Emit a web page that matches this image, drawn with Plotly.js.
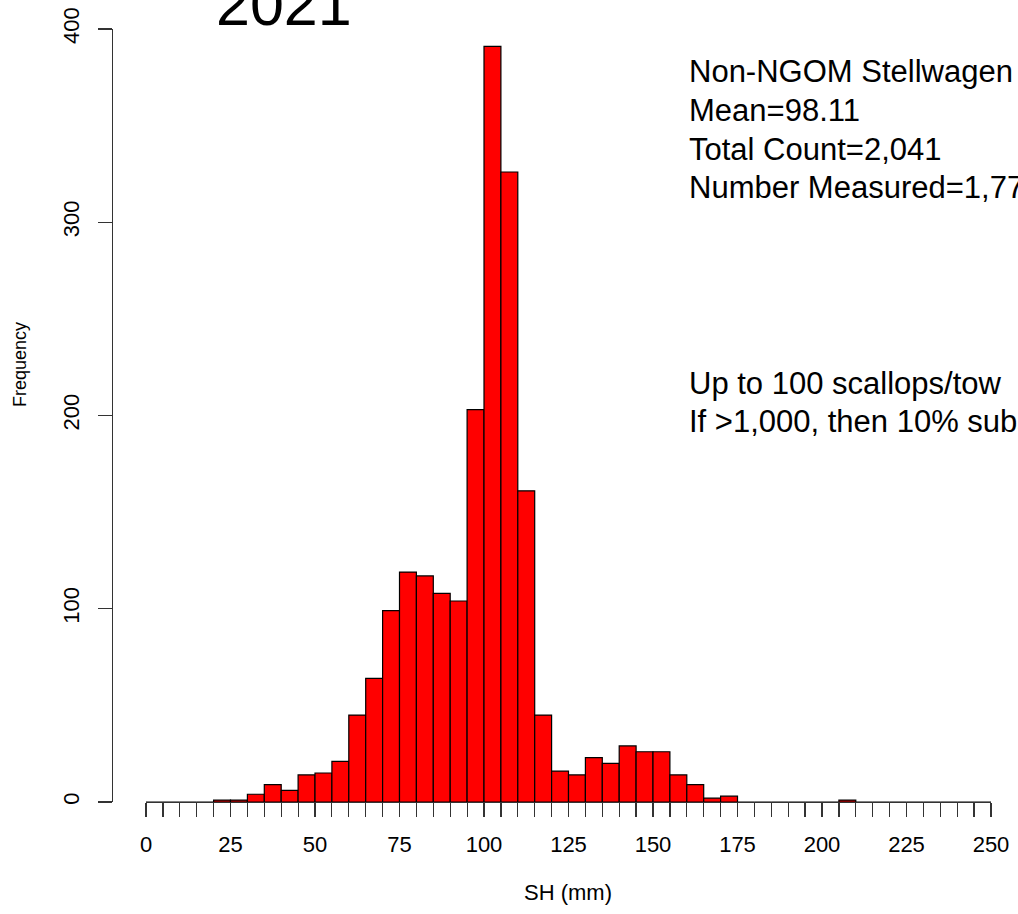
<!DOCTYPE html>
<html>
<head>
<meta charset="utf-8">
<script src="https://cdn.plot.ly/plotly-3.0.1.min.js"></script>
<style>
  html, body { margin: 0; padding: 0; background: #ffffff; }
  #chart { width: 1018px; height: 914px; }
</style>
</head>
<body>
<div id="chart"></div>
<script>
// Histogram of shell height (SH, mm), 5 mm bins
const binStart = [0, 5, 10, 15, 20, 25, 30, 35, 40, 45,
                  50, 55, 60, 65, 70, 75, 80, 85, 90, 95,
                  100, 105, 110, 115, 120, 125, 130, 135, 140, 145,
                  150, 155, 160, 165, 170, 175, 180, 185, 190, 195,
                  200, 205, 210, 215, 220, 225, 230, 235, 240, 245];
const binWidth = 5;
const counts = [0, 0, 0, 0, 1, 1, 4, 9, 6, 14,
                15, 21, 45, 64, 99, 119, 117, 108, 104, 203,
                391, 326, 161, 45, 16, 14, 23, 20, 29, 26,
                26, 14, 9, 2, 3, 0, 0, 0, 0, 0,
                0, 1, 0, 0, 0, 0, 0, 0, 0, 0];
const xTickVals = [0, 25, 50, 75, 100, 125, 150, 175, 200, 225, 250];
const yTickVals = [0, 100, 200, 300, 400];
const titleText = "2021";
const xTitle = "SH (mm)";
const yTitle = "Frequency";
const infoLines = ["Non-NGOM Stellwagen", "Mean=98.11", "Total Count=2,041", "Number Measured=1,771"];
const noteLines = ["Up to 100 scallops/tow", "If >1,000, then 10% subsample"];

const FONT = "Liberation Sans, Arial, Helvetica, sans-serif";

// geometry (pixels)
const W = 1018, H = 914;
const ml = 100, mr = 27, mt = 29, mb = 112;
const pw = W - ml - mr, ph = H - mt - mb;
const px = p => (p - ml) / pw;
const py = p => (H - mb - p) / ph;

const trace = {
  type: "bar",
  x: binStart.map(s => s + binWidth / 2),
  y: counts,
  width: binWidth,
  marker: { color: "#FF0000", line: { color: "#000000", width: 1.2 } },
  hoverinfo: "x+y"
};

const textLine = (txt, xPix, yPix) => ({
  xref: "paper", yref: "paper", x: px(xPix), y: py(yPix),
  xanchor: "left", yanchor: "middle", align: "left",
  text: txt, showarrow: false, font: { family: FONT, size: 31, color: "#000000" }
});

const annotations = [
  { xref: "paper", yref: "paper", x: px(284), y: py(4), xanchor: "center", yanchor: "middle",
    text: titleText, showarrow: false, font: { family: FONT, size: 61, color: "#000000" } },
  { xref: "paper", yref: "paper", x: px(567.5), y: py(892), xanchor: "center", yanchor: "middle",
    text: xTitle, showarrow: false, font: { family: FONT, size: 22, color: "#000000" } },
  { xref: "paper", yref: "paper", x: px(20), y: py(365), xanchor: "center", yanchor: "middle",
    text: yTitle, textangle: -90, showarrow: false, font: { family: FONT, size: 18, color: "#000000" } }
];
const infoY = [72, 110.7, 149.4, 188];
infoLines.forEach((t, i) => annotations.push(textLine(t, 687, infoY[i])));
const noteY = [383, 421];
noteLines.forEach((t, i) => annotations.push(textLine(t, 687, noteY[i])));

const layout = {
  width: W, height: H,
  margin: { l: ml, r: mr, t: mt, b: mb },
  paper_bgcolor: "#ffffff",
  plot_bgcolor: "#ffffff",
  showlegend: false,
  bargap: 0,
  font: { family: FONT, color: "#000000" },
  xaxis: {
    domain: [px(146), 1],
    range: [0, 250],
    showgrid: false, zeroline: false,
    showline: true, linecolor: "#333333", linewidth: 1.2,
    ticks: "outside", ticklen: 14, tickwidth: 1.2, tickcolor: "#333333",
    tickvals: xTickVals,
    ticklabelstandoff: 8,
    tickfont: { family: FONT, size: 22, color: "#000000" },
    minor: { dtick: 5, tick0: 0, ticks: "outside", ticklen: 14, tickwidth: 1.2, tickcolor: "#333333", showgrid: false },
    fixedrange: true
  },
  yaxis: {
    anchor: "free",
    position: px(112),
    range: [0, 400],
    showgrid: false, zeroline: false,
    showline: true, linecolor: "#333333", linewidth: 1.2,
    ticks: "outside", ticklen: 14, tickwidth: 1.2, tickcolor: "#333333",
    tickvals: yTickVals,
    tickangle: -90,
    ticklabelstandoff: 10,
    tickfont: { family: FONT, size: 22, color: "#000000" },
    fixedrange: true
  },
  annotations: annotations
};

Plotly.newPlot("chart", [trace], layout, { displayModeBar: false, staticPlot: true });
</script>
</body>
</html>
